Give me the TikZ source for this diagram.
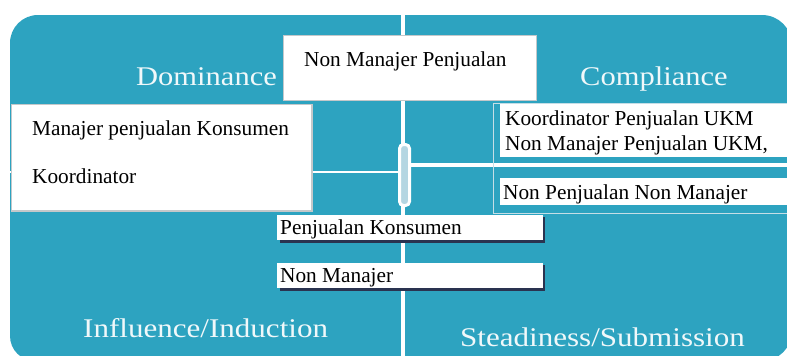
\documentclass[tikz,border=0pt]{standalone}
\usepackage{fontspec}
\setmainfont{Liberation Serif}
\newfontfamily\labelfont[FakeStretch=1.13]{Liberation Serif}
\newfontfamily\labelfontw[FakeStretch=1.15]{Liberation Serif}
\definecolor{tealc}{HTML}{2DA3C0}
\definecolor{pillc}{HTML}{B5D6E2}
\definecolor{shadowc}{HTML}{2A3350}
\definecolor{boxline}{HTML}{C4C8CA}
\definecolor{thinline}{HTML}{C6DEE6}
\definecolor{labelc}{HTML}{F0F8FA}
\tikzset{
  lbl/.style={anchor=base west, inner sep=0pt, text=labelc, font=\labelfont\fontsize{27}{30}\selectfont},
  lblw/.style={lbl, font=\labelfontw\fontsize{27}{30}\selectfont},
  txt/.style={anchor=base west, inner sep=0pt, text=black, font=\fontsize{21.3}{24}\selectfont},
  graybox/.style={fill=white, draw=boxline, line width=1.5pt},
  shadowbox/.style={fill=white},
  sep/.style={draw=white}
}
\begin{document}
\begin{tikzpicture}[x=1pt,y=-1pt]
\useasboundingbox (0,0) rectangle (787,356);
% background
\fill[tealc] (10,200) [rounded corners=28pt] -- (10,15) -- (400,15) [rounded corners=30pt] -- (792,15) -- (792,200) -- (792,361) -- (400,361) [rounded corners=25pt] -- (10,361) -- cycle;
% separators
\fill[white] (401,15) rectangle (405,356);
\fill[white] (10,170.7) rectangle (401,173.3);
\fill[white] (405,163) rectangle (787,167);
% centre pill
\draw[white, line width=3pt, fill=pillc, rounded corners=4pt] (399.5,144.5) rectangle (409.5,205.5);
% thin outline on right
\draw[thinline, line width=1pt] (800,103) -- (493.5,103) -- (493.5,213.5) -- (800,213.5);
% right white boxes
\fill[white] (500,104) rectangle (787,157);
\fill[white] (500,178) rectangle (787,205);
% top box
\draw[graybox] (283.5,35.5) rectangle (536.5,100.5);
% left box
\draw[graybox] (11.5,104.5) rectangle (312,211);
% shadow boxes
\fill[shadowc] (279.5,217) rectangle (545,242.5);
\fill[white] (277,214.5) rectangle (543,240);
\fill[shadowc] (279.5,265) rectangle (545,290.5);
\fill[white] (277,262.5) rectangle (543,288);
% labels
\node[lbl] (dom) at (136,85) {Dominance};
\node[lbl] (comp) at (580,85) {Compliance};
\node[lblw] (infl) at (83,337.5) {Influence/Induction};
\node[lblw] (stead) at (460,346) {Steadiness/Submission};
% texts
\node[txt] (t1) at (304,66) {Non Manajer Penjualan};
\node[txt] (t2) at (32,135) {Manajer penjualan Konsumen};
\node[txt] (t3) at (32,183) {Koordinator};
\node[txt] (t4) at (505,125) {Koordinator Penjualan UKM};
\node[txt] (t5) at (505,150) {Non Manajer Penjualan UKM,};
\node[txt] (t6) at (503,199) {Non Penjualan Non Manajer};
\node[txt] (t7) at (280,234) {Penjualan Konsumen};
\node[txt] (t8) at (280,282) {Non Manajer};
\end{tikzpicture}
\end{document}
